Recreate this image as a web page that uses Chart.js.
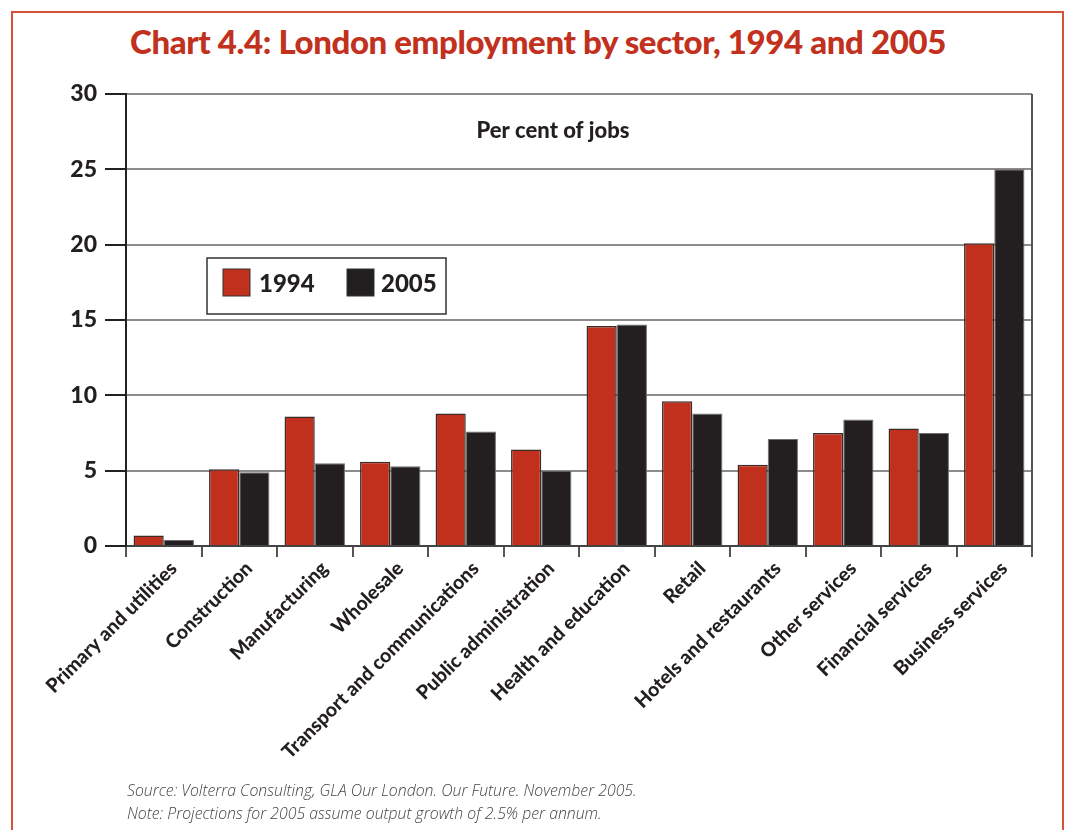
<!DOCTYPE html>
<html>
<head>
<meta charset="utf-8">
<title>London employment by sector</title>
<script src="https://cdn.jsdelivr.net/npm/chart.js@4"></script>
<style>
  body { margin: 0; background: #fff; }
  #wrap { position: relative; width: 1069px; height: 830px; overflow: hidden; }
  #frame {
    position: absolute; left: 11px; top: 11px; width: 1053px; height: 900px;
    border: 2px solid #d4513c; box-sizing: border-box;
  }
  #title {
    position: absolute; left: 0; top: 21px; width: 1076px; text-align: center;
    font-family: Lato, sans-serif; font-weight: 900; font-size: 33px; color: #c1311e;
    letter-spacing: -0.4px;
  }
  #notes {
    position: absolute; left: 127px; top: 779px;
    font-family: "Open Sans", sans-serif; font-style: italic; font-weight: 300;
    font-size: 15.8px; line-height: 23px; color: #444;
  }
  canvas { position: absolute; left: 0; top: 0; }
</style>
</head>
<body>
<div id="wrap">
  <div id="frame"></div>
  <div id="title">Chart 4.4: London employment by sector, 1994 and 2005</div>
  <canvas id="sectorChart" width="1069" height="830"></canvas>
  <div id="notes">
    Source: Volterra Consulting, GLA Our London. Our Future. November 2005.<br>
    Note: Projections for 2005 assume output growth of 2.5% per annum.
  </div>
</div>
<script>
const sectors = [
    "Primary and utilities", "Construction", "Manufacturing", "Wholesale",
    "Transport and communications", "Public administration", "Health and education",
    "Retail", "Hotels and restaurants", "Other services", "Financial services",
    "Business services"
];
const jobs1994 = [0.7, 5.1, 8.6, 5.6, 8.8, 6.4, 14.6, 9.6, 5.4, 7.5, 7.8, 20.1];
const jobs2005 = [0.4, 4.9, 5.5, 5.3, 7.6, 5.0, 14.7, 8.8, 7.1, 8.4, 7.5, 25.0];
const yTicks = [0, 5, 10, 15, 20, 25, 30];

const RED = "#c0301c";
const BLACK = "#231f20";
const INK = "#231f20";

// caption inside the plot, legend box and the closing line on the right
const plotExtras = {
    id: "plotExtras",
    afterDraw(chart) {
        const ctx = chart.ctx;
        const area = chart.chartArea;
        ctx.save();

        ctx.strokeStyle = "#555";
        ctx.lineWidth = 2;
        ctx.beginPath();
        ctx.moveTo(area.right, area.top);
        ctx.lineTo(area.right, area.bottom);
        ctx.stroke();

        ctx.fillStyle = INK;
        ctx.font = "900 22px Lato, sans-serif";
        ctx.textAlign = "center";
        ctx.textBaseline = "middle";
        ctx.fillText("Per cent of jobs", (area.left + area.right) / 2 - 26, 131);

        // legend
        const bx = 207, by = 258, bw = 239, bh = 56;
        ctx.fillStyle = "#fff";
        ctx.fillRect(bx, by, bw, bh);
        ctx.strokeStyle = "#333";
        ctx.lineWidth = 1.5;
        ctx.strokeRect(bx, by, bw, bh);
        ctx.font = "900 24px Lato, sans-serif";
        ctx.textAlign = "left";
        const items = [[223, 259], [347, 381]];
        chart.data.datasets.forEach((ds, i) => {
            const [sx, tx] = items[i];
            ctx.fillStyle = ds.backgroundColor;
            ctx.fillRect(sx, by + 11, 27, 27);
            ctx.strokeStyle = "#333";
            ctx.lineWidth = 1;
            ctx.strokeRect(sx, by + 11, 27, 27);
            ctx.fillStyle = INK;
            ctx.fillText(ds.label, tx, by + 26);
        });
        ctx.restore();
    }
};

new Chart(document.getElementById("sectorChart"), {
    type: "bar",
    data: {
        labels: sectors,
        datasets: [{
            label: "1994",
            data: jobs1994,
            backgroundColor: RED,
            borderColor: "#3a2a28",
            borderWidth: 1.5
        }, {
            label: "2005",
            data: jobs2005,
            backgroundColor: BLACK,
            borderColor: "#6e6e6e",
            borderWidth: 1
        }]
    },
    options: {
        responsive: false,
        animation: false,
        categoryPercentage: 0.8,
        barPercentage: 1.0,
        layout: { padding: { top: 94, right: 37, left: 0, bottom: 0 } },
        plugins: {
            legend: { display: false },
            tooltip: { enabled: false }
        },
        scales: {
            x: {
                grid: { offset: true, drawOnChartArea: false, tickLength: 11, color: "#555", lineWidth: 2 },
                border: { display: true, color: "#444", width: 2 },
                ticks: {
                    autoSkip: false,
                    minRotation: 45,
                    maxRotation: 45,
                    padding: 0,
                    labelOffset: 10,
                    color: INK,
                    font: { family: "Lato, sans-serif", weight: "900", size: 19.5 }
                },
                afterFit(scale) { scale.height = 284; }
            },
            y: {
                min: 0,
                max: 30,
                afterBuildTicks(scale) { scale.ticks = yTicks.map(v => ({ value: v })); },
                grid: { color: "#8c8c8c", lineWidth: 2, tickLength: 21, tickColor: "#222" },
                border: { display: true, color: "#222", width: 2 },
                ticks: {
                    padding: 8,
                    color: INK,
                    font: { family: "Lato, sans-serif", weight: "900", size: 23 }
                },
                afterFit(scale) { scale.width = 126; }
            }
        }
    },
    plugins: [plotExtras]
});
</script>
</body>
</html>
